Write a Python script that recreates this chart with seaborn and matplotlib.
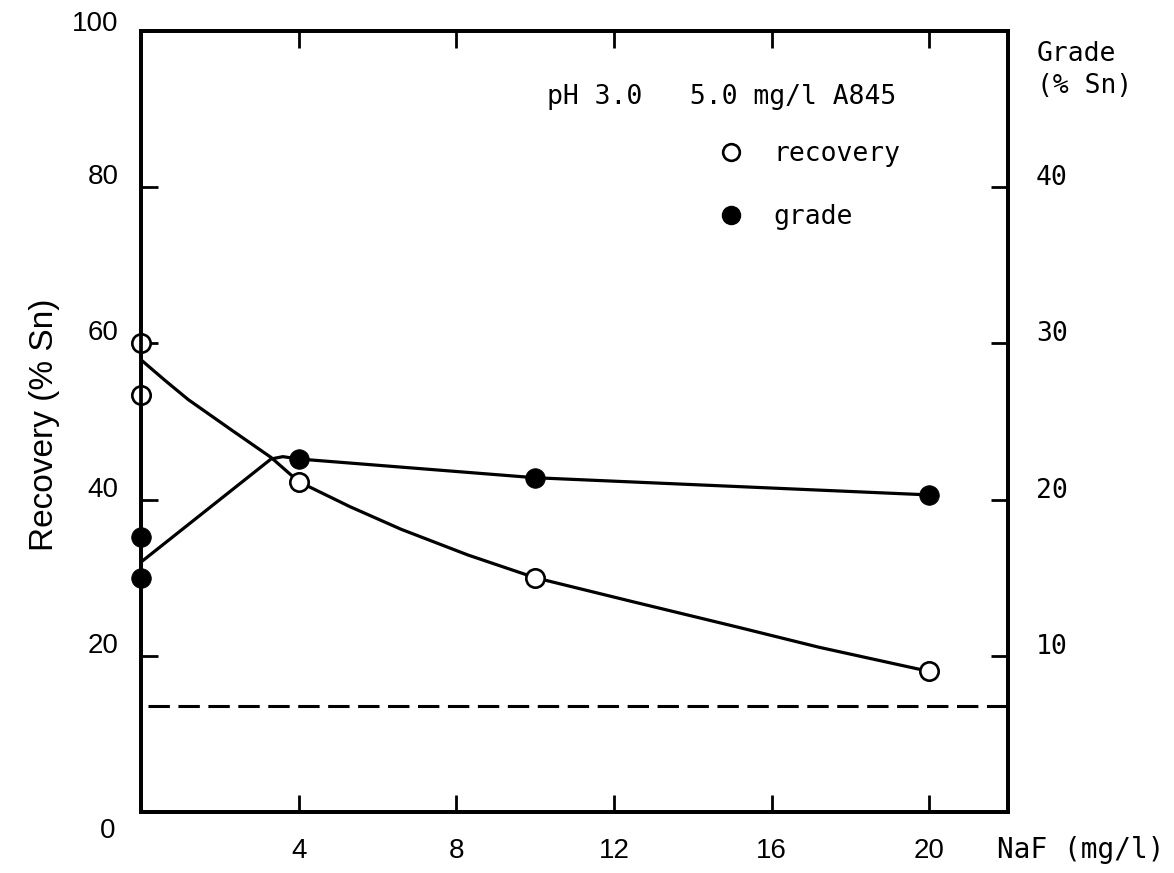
import matplotlib
matplotlib.use("Agg")
import matplotlib.pyplot as plt
from matplotlib.lines import Line2D
from matplotlib.transforms import ScaledTranslation
import pandas as pd
import seaborn as sns

# Flotation results versus NaF addition (pH 3.0, 5.0 mg/l A845)
naf_points = [0, 0, 4, 10, 20]                      # NaF, mg/l
recovery_points = [60.0, 53.4, 42.3, 30.0, 18.0]    # Sn recovery, %
grade_points = [17.6, 15.0, 22.6, 21.4, 20.3]       # concentrate grade, % Sn

# Hand-drawn trend curves through the measurements
recovery_curve_naf = [0, 0.6, 1.2, 2.3, 3.3, 4, 5.3, 6.6, 8.3, 10, 12.5, 15.2, 17.2, 20]
recovery_curve = [57.9, 55.3, 52.8, 48.9, 45.4, 42.3, 39.1, 36.2, 32.9, 30.0,
                  26.9, 23.6, 21.1, 18.0]
grade_curve_naf = [0, 3.3, 3.6, 4, 10, 20]
grade_curve = [16.0, 22.6, 22.75, 22.6, 21.4, 20.3]

feed_grade = 6.8                                    # % Sn in the feed (dashed)

x_ticks = [4, 8, 12, 16, 20]
recovery_ticks = [0, 20, 40, 60, 80, 100]
grade_ticks = [10, 20, 30, 40]

sns.set_theme(style="ticks")
plt.rcParams["font.family"] = ["Liberation Sans", "DejaVu Sans"]
for key in ("text.color", "axes.labelcolor", "xtick.color", "ytick.color",
            "axes.edgecolor"):
    plt.rcParams[key] = "black"

MONO = "DejaVu Sans Mono"
SANS = "Liberation Sans"

W, H = 1174, 873
fig = plt.figure(figsize=(W / 100, H / 100), dpi=100)
ax = fig.add_axes([141 / W, 1 - 812 / H, 867 / W, 781 / H])
ax2 = ax.twinx()

LW = 2.3
rec_df = pd.DataFrame({"naf": recovery_curve_naf, "recovery": recovery_curve})
sns.lineplot(data=rec_df, x="naf", y="recovery", ax=ax, color="black",
             linewidth=LW, sort=False, estimator=None, zorder=2)
sns.scatterplot(x=naf_points, y=recovery_points, ax=ax, marker="o", s=175,
                color="white", edgecolor="black", linewidth=1.9, zorder=4,
                clip_on=False)

grade_df = pd.DataFrame({"naf": grade_curve_naf, "grade": grade_curve})
sns.lineplot(data=grade_df, x="naf", y="grade", ax=ax2, color="black",
             linewidth=LW, sort=False, estimator=None, zorder=2)
sns.scatterplot(x=naf_points, y=grade_points, ax=ax2, marker="o", s=200,
                color="black", edgecolor="black", linewidth=0.5, zorder=4,
                clip_on=False)
ax2.axhline(feed_grade, xmin=0.008, color="black", linewidth=2.2, dashes=(7, 2.8))

ax.set_xlim(0, 22)
ax.set_ylim(0, 100)
ax2.set_ylim(0, 50)
ax.set_xticks(x_ticks)
ax.set_xticklabels([str(v) for v in x_ticks])
ax.set_yticks(recovery_ticks)
ax.set_yticklabels([str(v) for v in recovery_ticks])
ax2.set_yticks(grade_ticks)
ax2.set_yticklabels([str(v) for v in grade_ticks])

for a in (ax, ax2):
    a.grid(False)
    for sp in a.spines.values():
        sp.set_visible(True)
        sp.set_linewidth(2.7)
        sp.set_color("black")

ax.tick_params(axis="both", which="major", direction="in", length=12, width=2,
               colors="black", top=True, right=False, labelsize=20)
ax.tick_params(axis="y", pad=16)
ax.tick_params(axis="x", pad=19)
ax2.tick_params(axis="y", which="major", direction="in", length=12, width=2,
                colors="black", right=True, left=False, labelsize=19, pad=20)

for lab in ax.get_yticklabels() + ax.get_xticklabels():
    lab.set_fontfamily(SANS)
for lab in ax2.get_yticklabels():
    lab.set_fontfamily(MONO)

ax.set_ylabel("Recovery (% Sn)", fontsize=24, va="center", family=SANS)
ax.yaxis.set_label_coords((45 - 141) / 867, (812 - 425) / 781)

ax2.set_ylabel("Grade\n(% Sn)", fontsize=19, rotation=0, ha="left", va="center",
               multialignment="left", linespacing=1.3, family=MONO)
ax2.yaxis.set_label_coords((1037 - 141) / 867, (812 - 70) / 781)

ax.set_xlabel("NaF (mg/l)", fontsize=20, ha="left", va="center", family=MONO)
ax.xaxis.set_label_coords((997 - 141) / 867, (812 - 850) / 781)

fig.text(547 / W, 1 - 97 / H, "pH 3.0   5.0 mg/l A845", fontsize=19,
         family=MONO, ha="left", va="center")

handles = [
    Line2D([], [], marker="o", linestyle="none", markersize=12,
           markerfacecolor="white", markeredgecolor="black", markeredgewidth=1.9,
           label="recovery"),
    Line2D([], [], marker="o", linestyle="none", markersize=13,
           markerfacecolor="black", markeredgecolor="black", label="grade"),
]
fig.legend(handles=handles, loc="upper left",
           bbox_to_anchor=(718 / W, 1 - 141 / H), bbox_transform=fig.transFigure,
           frameon=False, borderpad=0, borderaxespad=0, handlelength=1.0,
           handletextpad=1.1, labelspacing=1.4,
           prop={"family": MONO, "size": 19})


def shift(labels, dx_px, dy_px):
    off = ScaledTranslation(dx_px / 100, dy_px / 100, fig.dpi_scale_trans)
    for lab in labels:
        lab.set_transform(lab.get_transform() + off)


ylabs = ax.get_yticklabels()
shift(ylabs[1:5], 0, 13)
shift([ylabs[5]], 0, 10)
shift([ylabs[0]], -3, -16)
shift(ax2.get_yticklabels(), 0, 12)

fig.savefig("out.png", dpi=100)
